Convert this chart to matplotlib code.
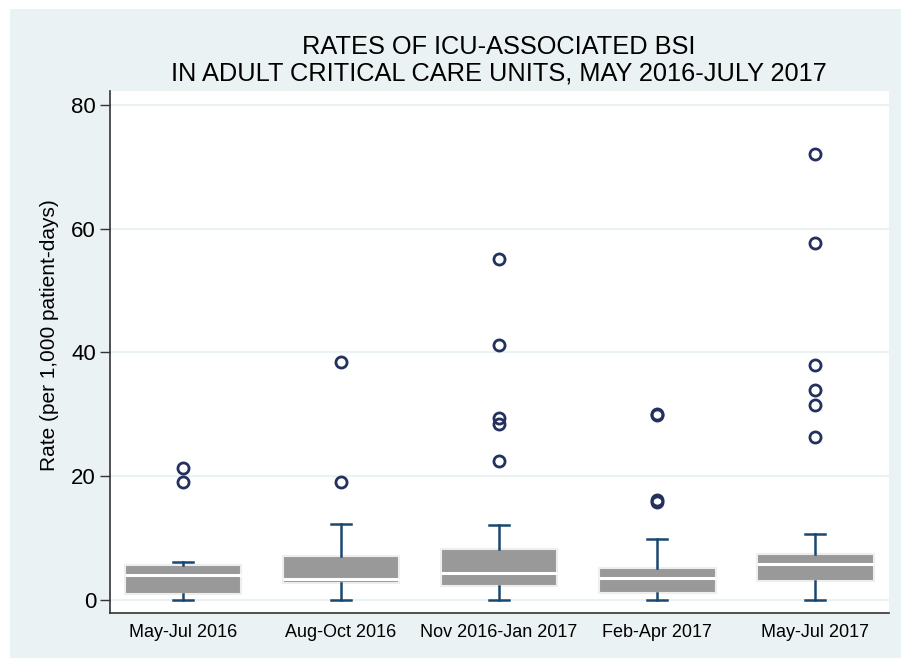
import matplotlib.pyplot as plt
from matplotlib.patches import Rectangle

plt.rcParams['font.family'] = ['Liberation Sans', 'DejaVu Sans']

# datos
periodos = ['May-Jul 2016', 'Aug-Oct 2016', 'Nov 2016-Jan 2017', 'Feb-Apr 2017', 'May-Jul 2017']
bigote_inf = [0.0, 0.0, 0.0, 0.0, 0.0]
q1 = [0.97, 2.7, 2.3, 1.08, 3.0]
mediana = [4.0, 3.4, 4.4, 3.5, 5.8]
q3 = [5.66, 7.1, 8.2, 5.1, 7.4]
bigote_sup = [6.1, 12.3, 12.1, 9.9, 10.6]
atipicos = [
    [21.3, 19.0],
    [38.5, 19.0],
    [55.1, 41.2, 29.4, 28.4, 22.4],
    [30.1, 29.9, 16.2, 15.9],
    [72.1, 57.7, 37.9, 34.0, 31.5, 26.4],
]

azul = '#1a476f'
marino = '#24315e'
fondo = '#eaf2f3'

fig = plt.figure(figsize=(9.01, 6.58), dpi=100, facecolor='white')
fig.add_artist(Rectangle((10/901, 0), 1, 1 - 9/658, transform=fig.transFigure,
                         facecolor=fondo, edgecolor='none', zorder=-10))
ax = fig.add_axes([110/901, 1 - 613/658, (889-110)/901, (613-91)/658])
ax.set_zorder(1)
ax.set_facecolor('white')

stats = []
for i in range(len(periodos)):
    stats.append({'whislo': bigote_inf[i], 'q1': q1[i], 'med': mediana[i],
                  'q3': q3[i], 'whishi': bigote_sup[i], 'fliers': atipicos[i]})

pos = list(range(1, len(periodos) + 1))
ax.bxp(stats, positions=pos, widths=0.74, capwidths=0.13, patch_artist=True,
       boxprops=dict(facecolor='#999999', edgecolor='#eeeeee', linewidth=1.5),
       medianprops=dict(color='white', linewidth=2.2),
       whiskerprops=dict(color=azul, linewidth=1.8),
       capprops=dict(color=azul, linewidth=1.8),
       flierprops=dict(marker='o', markerfacecolor='none', markeredgecolor=marino,
                       markersize=8, markeredgewidth=2),
       zorder=3)

ax.set_xlim(0.538, 5.468)
ax.set_ylim(-2.1, 82.26)
ax.set_yticks([0, 20, 40, 60, 80])
ax.yaxis.grid(True, color=fondo, linewidth=1.5, zorder=0)
ax.set_axisbelow(True)
ax.set_xticks(pos)
ax.set_xticklabels(periodos, fontsize=13)
ax.tick_params(axis='x', length=0, pad=8)
ax.tick_params(axis='y', length=7, width=1, labelsize=16, pad=3, color='#333333')
for s in ['top', 'right']:
    ax.spines[s].set_visible(False)
for s in ['left', 'bottom']:
    ax.spines[s].set_color('#333333')
    ax.spines[s].set_linewidth(1.2)

ax.set_ylabel('Rate (per 1,000 patient-days)', fontsize=15)
ax.yaxis.set_label_coords(-0.066, (613 - 335) / 522)
fig.text(499/901, 1 - 60/658, 'RATES OF ICU-ASSOCIATED BSI\nIN ADULT CRITICAL CARE UNITS, MAY 2016-JULY 2017',
         ha='center', va='center', fontsize=18.3, linespacing=1.12)

fig.savefig('out.png', dpi=100, facecolor=fig.get_facecolor())
